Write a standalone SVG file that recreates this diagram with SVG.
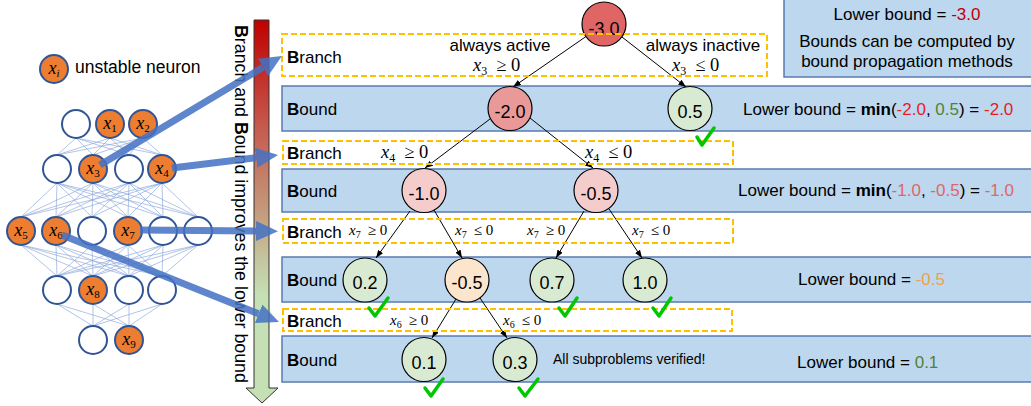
<svg xmlns="http://www.w3.org/2000/svg" width="1031" height="406" viewBox="0 0 1031 406">
<defs>
<style>
.t{font-family:"Liberation Sans",Arial,sans-serif;font-size:17px;fill:#000}
.m{font-family:"Liberation Serif","Times New Roman",serif;font-size:18px;fill:#000}
.ml{font-family:"Liberation Serif","Times New Roman",serif;font-size:18.5px;fill:#000}
.ms{font-family:"Liberation Serif","Times New Roman",serif;font-size:15px;fill:#000}
.mi{font-style:italic}
.nv{font-family:"Liberation Sans",Arial,sans-serif;font-size:18px;text-anchor:middle;fill:#000}
.c{text-anchor:middle}
.b{font-weight:bold}
.bound{fill:#BDD7EE;stroke:#5B7BB0;stroke-width:1.5}
.branch{fill:none;stroke:#FFC000;stroke-width:2;stroke-dasharray:6 3}
.nn{stroke:#8FAADC;stroke-width:0.8;opacity:0.85}
.ne{fill:#fff;stroke:#2F5597;stroke-width:2}
.nu{fill:#ED7D31;stroke:#2F5597;stroke-width:2}
.edge{stroke:#000;stroke-width:1;fill:none;marker-end:url(#ah)}
.tn{stroke:#000;stroke-width:1.2}
.chk{fill:none;stroke:#00C800;stroke-width:3.5;stroke-linecap:round;stroke-linejoin:round}
.big{stroke:#4472C4;stroke-width:7;fill:none;marker-end:url(#bh)}
</style>
<linearGradient id="grad" gradientUnits="userSpaceOnUse" x1="0" y1="20" x2="0" y2="403">
<stop offset="0" stop-color="#C00000"/>
<stop offset="0.28" stop-color="#C65A4E"/>
<stop offset="0.5" stop-color="#C49A7C"/>
<stop offset="0.62" stop-color="#C4C49E"/>
<stop offset="0.72" stop-color="#C5E0B4"/>
<stop offset="1" stop-color="#C5E0B4"/>
</linearGradient>
<marker id="ah" markerUnits="userSpaceOnUse" markerWidth="8" markerHeight="6" refX="8" refY="3" orient="auto">
<path d="M0,0 L8,3 L0,6 z" fill="#000"/>
</marker>
<marker id="bh" markerUnits="userSpaceOnUse" markerWidth="22" markerHeight="20" refX="0" refY="10" orient="auto">
<path d="M0,0 L22,10 L0,20 z" fill="#4472C4"/>
</marker>
</defs>
<rect width="1031" height="406" fill="#fff"/>

<!-- bound rows -->
<g id="bound-rows">
<rect class="bound" x="784" y="-2" width="250" height="79"/>
<rect class="bound" x="282" y="86" width="753" height="45"/>
<rect class="bound" x="282" y="169" width="753" height="43"/>
<rect class="bound" x="282" y="257" width="753" height="45"/>
<rect class="bound" x="282" y="336" width="753" height="46"/>
</g>

<!-- right side texts -->
<g id="info">
<text class="t c" x="907" y="20">Lower bound = <tspan fill="#C00000">-3.0</tspan></text>
<text class="t c" x="907" y="47">Bounds can be computed by</text>
<text class="t c" x="907" y="67">bound propagation methods</text>
<text class="t" x="743" y="115">Lower bound = <tspan class="b">min</tspan>(<tspan fill="#E41E1E">-2.0</tspan>, <tspan fill="#548235">0.5</tspan>) = <tspan fill="#E41E1E">-2.0</tspan></text>
<text class="t" x="738" y="196">Lower bound = <tspan class="b">min</tspan>(<tspan fill="#E06666">-1.0</tspan>, <tspan fill="#E06666">-0.5</tspan>) = <tspan fill="#E06666">-1.0</tspan></text>
<text class="t" x="798" y="285">Lower bound = <tspan fill="#F0A04B">-0.5</tspan></text>
<text class="t" x="797" y="368">Lower bound = <tspan fill="#548235">0.1</tspan></text>
<text class="t" x="553" y="364" style="font-size:14px">All subproblems verified!</text>
</g>

<!-- row labels -->
<g id="row-labels">
<text class="t" x="287" y="63"><tspan class="b">B</tspan>ranch</text>
<text class="t" x="287" y="115"><tspan class="b">B</tspan>ound</text>
<text class="t" x="287" y="159"><tspan class="b">B</tspan>ranch</text>
<text class="t" x="287" y="197"><tspan class="b">B</tspan>ound</text>
<text class="t" x="287" y="238"><tspan class="b">B</tspan>ranch</text>
<text class="t" x="287" y="286"><tspan class="b">B</tspan>ound</text>
<text class="t" x="287" y="327"><tspan class="b">B</tspan>ranch</text>
<text class="t" x="287" y="366"><tspan class="b">B</tspan>ound</text>
</g>

<!-- tree connectors -->
<g id="connectors">
<line class="edge" x1="586" y1="36.5" x2="513" y2="87"/>
<line class="edge" x1="622" y1="37" x2="686" y2="87"/>
<line class="edge" x1="490" y1="119" x2="425" y2="168"/>
<line class="edge" x1="530" y1="118" x2="593" y2="168"/>
<line class="edge" x1="410" y1="211" x2="376" y2="258"/>
<line class="edge" x1="434" y1="210" x2="462" y2="258"/>
<line class="edge" x1="584" y1="211" x2="556" y2="258"/>
<line class="edge" x1="609" y1="209" x2="642" y2="258"/>
<line class="edge" x1="456" y1="299" x2="432" y2="338"/>
<line class="edge" x1="480" y1="298" x2="507" y2="338"/>
</g>

<!-- branch labels -->
<g id="branch-labels">
<text class="t c" x="500" y="51">always active</text>
<text class="ml" x="473" y="70.5"><tspan class="mi">x</tspan><tspan font-size="12" dy="4">3</tspan><tspan dx="9" dy="-4">≥ 0</tspan></text>
<text class="t c" x="703" y="51">always inactive</text>
<text class="ml" x="672" y="70.5"><tspan class="mi">x</tspan><tspan font-size="12" dy="4">3</tspan><tspan dx="9" dy="-4">≤ 0</tspan></text>
<text class="ml" x="381" y="158"><tspan class="mi">x</tspan><tspan font-size="12" dy="4">4</tspan><tspan dx="9" dy="-4">≥ 0</tspan></text>
<text class="ml" x="585" y="158"><tspan class="mi">x</tspan><tspan font-size="12" dy="4">4</tspan><tspan dx="9" dy="-4">≤ 0</tspan></text>
<text class="ms" x="349" y="235"><tspan class="mi">x</tspan><tspan font-size="10" dy="3">7</tspan><tspan dx="7" dy="-3">≥ 0</tspan></text>
<text class="ms" x="455" y="235"><tspan class="mi">x</tspan><tspan font-size="10" dy="3">7</tspan><tspan dx="7" dy="-3">≤ 0</tspan></text>
<text class="ms" x="527" y="235"><tspan class="mi">x</tspan><tspan font-size="10" dy="3">7</tspan><tspan dx="7" dy="-3">≥ 0</tspan></text>
<text class="ms" x="632" y="235"><tspan class="mi">x</tspan><tspan font-size="10" dy="3">7</tspan><tspan dx="7" dy="-3">≤ 0</tspan></text>
<text class="ms" x="390" y="325"><tspan class="mi">x</tspan><tspan font-size="10" dy="3">6</tspan><tspan dx="7" dy="-3">≥ 0</tspan></text>
<text class="ms" x="503" y="325"><tspan class="mi">x</tspan><tspan font-size="10" dy="3">6</tspan><tspan dx="7" dy="-3">≤ 0</tspan></text>
</g>

<!-- tree nodes -->
<g id="node-root"><circle class="tn" cx="604" cy="24" r="22" fill="#E06666"/><text class="nv" x="604" y="35">-3.0</text></g>
<g id="node-m2"><circle class="tn" cx="510" cy="108.5" r="22" fill="#EA9999"/><text class="nv" x="510" y="118">-2.0</text></g>
<g id="node-p05"><circle class="tn" cx="690" cy="108.5" r="22" fill="#D9EAD3"/><text class="nv" x="690" y="118">0.5</text></g>
<g id="node-m1"><circle class="tn" cx="424" cy="190.5" r="22" fill="#F4CCCC"/><text class="nv" x="424" y="200">-1.0</text></g>
<g id="node-m05a"><circle class="tn" cx="596" cy="190.5" r="22" fill="#F4CCCC"/><text class="nv" x="596" y="200">-0.5</text></g>
<g id="node-p02"><circle class="tn" cx="365" cy="280" r="22" fill="#D9EAD3"/><text class="nv" x="365" y="289">0.2</text></g>
<g id="node-m05b"><circle class="tn" cx="467" cy="280" r="22" fill="#FCE5CD"/><text class="nv" x="467" y="289">-0.5</text></g>
<g id="node-p07"><circle class="tn" cx="552" cy="280" r="22" fill="#D9EAD3"/><text class="nv" x="552" y="289">0.7</text></g>
<g id="node-p10"><circle class="tn" cx="645" cy="280" r="22" fill="#D9EAD3"/><text class="nv" x="645" y="289">1.0</text></g>
<g id="node-p01"><circle class="tn" cx="424" cy="359.5" r="22" fill="#D9EAD3"/><text class="nv" x="424" y="369">0.1</text></g>
<g id="node-p03"><circle class="tn" cx="515" cy="359.5" r="22" fill="#D9EAD3"/><text class="nv" x="515" y="369">0.3</text></g>

<!-- branch rows (dashed, on top) -->
<g id="branch-rows">
<rect class="branch" x="282" y="34" width="485" height="42"/>
<rect class="branch" x="283" y="141" width="450" height="23"/>
<rect class="branch" x="283" y="219" width="450" height="24"/>
<rect class="branch" x="283" y="309" width="449" height="22"/>
</g>

<!-- checkmarks -->
<g id="checks">
<path class="chk" d="M697,137 L702,145 L714,128"/>
<path class="chk" d="M369,308 L375,316 L388,298"/>
<path class="chk" d="M559,308 L565,316 L577,298"/>
<path class="chk" d="M653,308 L659,316 L671,298"/>
<path class="chk" d="M425,388 L431,396 L443,379"/>
<path class="chk" d="M519,388 L525,396 L538,379"/>
</g>

<!-- progress bar -->
<g id="progress">
<polygon points="254,20 269,20 269,388 278,388 262,403 246,388 254,388" fill="url(#grad)" stroke="#333" stroke-width="1"/>
<text class="t" transform="translate(235,25) rotate(90)" style="font-size:17.8px"><tspan class="b">B</tspan>ranch and <tspan class="b">B</tspan>ound improves the lower bound</text>
</g>

<!-- network -->
<g id="network">
<g id="nn-links">
<line class="nn" x1="76" y1="138" x2="57" y2="155"/><line class="nn" x1="76" y1="138" x2="93" y2="155"/><line class="nn" x1="76" y1="138" x2="129" y2="155"/><line class="nn" x1="76" y1="138" x2="162" y2="155"/>
<line class="nn" x1="110" y1="138" x2="57" y2="155"/><line class="nn" x1="110" y1="138" x2="93" y2="155"/><line class="nn" x1="110" y1="138" x2="129" y2="155"/><line class="nn" x1="110" y1="138" x2="162" y2="155"/>
<line class="nn" x1="143" y1="138" x2="57" y2="155"/><line class="nn" x1="143" y1="138" x2="93" y2="155"/><line class="nn" x1="143" y1="138" x2="129" y2="155"/><line class="nn" x1="143" y1="138" x2="162" y2="155"/>

<line class="nn" x1="57" y1="183" x2="21" y2="217"/><line class="nn" x1="57" y1="183" x2="56" y2="217"/><line class="nn" x1="57" y1="183" x2="92" y2="217"/><line class="nn" x1="57" y1="183" x2="128" y2="217"/><line class="nn" x1="57" y1="183" x2="163" y2="217"/><line class="nn" x1="57" y1="183" x2="198" y2="217"/>
<line class="nn" x1="93" y1="183" x2="21" y2="217"/><line class="nn" x1="93" y1="183" x2="56" y2="217"/><line class="nn" x1="93" y1="183" x2="92" y2="217"/><line class="nn" x1="93" y1="183" x2="128" y2="217"/><line class="nn" x1="93" y1="183" x2="163" y2="217"/><line class="nn" x1="93" y1="183" x2="198" y2="217"/>
<line class="nn" x1="129" y1="183" x2="21" y2="217"/><line class="nn" x1="129" y1="183" x2="56" y2="217"/><line class="nn" x1="129" y1="183" x2="92" y2="217"/><line class="nn" x1="129" y1="183" x2="128" y2="217"/><line class="nn" x1="129" y1="183" x2="163" y2="217"/><line class="nn" x1="129" y1="183" x2="198" y2="217"/>
<line class="nn" x1="162" y1="183" x2="21" y2="217"/><line class="nn" x1="162" y1="183" x2="56" y2="217"/><line class="nn" x1="162" y1="183" x2="92" y2="217"/><line class="nn" x1="162" y1="183" x2="128" y2="217"/><line class="nn" x1="162" y1="183" x2="163" y2="217"/><line class="nn" x1="162" y1="183" x2="198" y2="217"/>

<line class="nn" x1="21" y1="245" x2="57" y2="276"/><line class="nn" x1="21" y1="245" x2="93" y2="276"/><line class="nn" x1="21" y1="245" x2="129" y2="276"/><line class="nn" x1="21" y1="245" x2="162" y2="276"/>
<line class="nn" x1="56" y1="245" x2="57" y2="276"/><line class="nn" x1="56" y1="245" x2="93" y2="276"/><line class="nn" x1="56" y1="245" x2="129" y2="276"/><line class="nn" x1="56" y1="245" x2="162" y2="276"/>
<line class="nn" x1="92" y1="245" x2="57" y2="276"/><line class="nn" x1="92" y1="245" x2="93" y2="276"/><line class="nn" x1="92" y1="245" x2="129" y2="276"/><line class="nn" x1="92" y1="245" x2="162" y2="276"/>
<line class="nn" x1="128" y1="245" x2="57" y2="276"/><line class="nn" x1="128" y1="245" x2="93" y2="276"/><line class="nn" x1="128" y1="245" x2="129" y2="276"/><line class="nn" x1="128" y1="245" x2="162" y2="276"/>
<line class="nn" x1="163" y1="245" x2="57" y2="276"/><line class="nn" x1="163" y1="245" x2="93" y2="276"/><line class="nn" x1="163" y1="245" x2="129" y2="276"/><line class="nn" x1="163" y1="245" x2="162" y2="276"/>
<line class="nn" x1="198" y1="245" x2="57" y2="276"/><line class="nn" x1="198" y1="245" x2="93" y2="276"/><line class="nn" x1="198" y1="245" x2="129" y2="276"/><line class="nn" x1="198" y1="245" x2="162" y2="276"/>

<line class="nn" x1="57" y1="304" x2="93" y2="326"/><line class="nn" x1="57" y1="304" x2="129" y2="326"/>
<line class="nn" x1="93" y1="304" x2="93" y2="326"/><line class="nn" x1="93" y1="304" x2="129" y2="326"/>
<line class="nn" x1="129" y1="304" x2="93" y2="326"/><line class="nn" x1="129" y1="304" x2="129" y2="326"/>
<line class="nn" x1="162" y1="304" x2="93" y2="326"/><line class="nn" x1="162" y1="304" x2="129" y2="326"/>
</g>
<g id="nn-nodes">
<circle class="ne" cx="76" cy="124" r="14"/>
<circle class="nu" cx="110" cy="124" r="14"/><text class="m" x="110" y="129" text-anchor="middle"><tspan class="mi">x</tspan><tspan font-size="11" dy="3">1</tspan></text>
<circle class="nu" cx="143" cy="124" r="14"/><text class="m" x="143" y="129" text-anchor="middle"><tspan class="mi">x</tspan><tspan font-size="11" dy="3">2</tspan></text>

<circle class="ne" cx="57" cy="169" r="14"/>
<circle class="nu" cx="93" cy="169" r="14"/><text class="m" x="93" y="174" text-anchor="middle"><tspan class="mi">x</tspan><tspan font-size="11" dy="3">3</tspan></text>
<circle class="ne" cx="129" cy="169" r="14"/>
<circle class="nu" cx="162" cy="169" r="14"/><text class="m" x="162" y="174" text-anchor="middle"><tspan class="mi">x</tspan><tspan font-size="11" dy="3">4</tspan></text>

<circle class="nu" cx="21" cy="231" r="14"/><text class="m" x="21" y="236" text-anchor="middle"><tspan class="mi">x</tspan><tspan font-size="11" dy="3">5</tspan></text>
<circle class="nu" cx="56" cy="231" r="14"/><text class="m" x="56" y="236" text-anchor="middle"><tspan class="mi">x</tspan><tspan font-size="11" dy="3">6</tspan></text>
<circle class="ne" cx="92" cy="231" r="14"/>
<circle class="nu" cx="128" cy="231" r="14"/><text class="m" x="128" y="236" text-anchor="middle"><tspan class="mi">x</tspan><tspan font-size="11" dy="3">7</tspan></text>
<circle class="ne" cx="163" cy="231" r="14"/>
<circle class="ne" cx="198" cy="231" r="14"/>

<circle class="ne" cx="57" cy="290" r="14"/>
<circle class="nu" cx="93" cy="290" r="14"/><text class="m" x="93" y="295" text-anchor="middle"><tspan class="mi">x</tspan><tspan font-size="11" dy="3">8</tspan></text>
<circle class="ne" cx="129" cy="290" r="14"/>
<circle class="ne" cx="162" cy="290" r="14"/>

<circle class="ne" cx="93" cy="340" r="14"/>
<circle class="nu" cx="129" cy="340" r="14"/><text class="m" x="129" y="345" text-anchor="middle"><tspan class="mi">x</tspan><tspan font-size="11" dy="3">9</tspan></text>
</g>
</g>

<!-- legend -->
<g id="legend">
<circle class="nu" cx="54" cy="69" r="14"/><text class="m" x="54" y="74" text-anchor="middle"><tspan class="mi">x</tspan><tspan class="mi" font-size="11" dy="3">i</tspan></text>
<text class="t" x="75" y="73" style="font-size:17.5px">unstable neuron</text>
</g>

<!-- big blue arrows -->
<g id="map-arrows" opacity="0.85">
<line class="big" x1="100" y1="165" x2="263" y2="67.3"/>
<line class="big" x1="172" y1="168" x2="256.2" y2="157.7"/>
<line class="big" x1="140" y1="230" x2="256" y2="231"/>
<line class="big" x1="62" y1="235" x2="258.6" y2="313.8"/>
</g>
</svg>
